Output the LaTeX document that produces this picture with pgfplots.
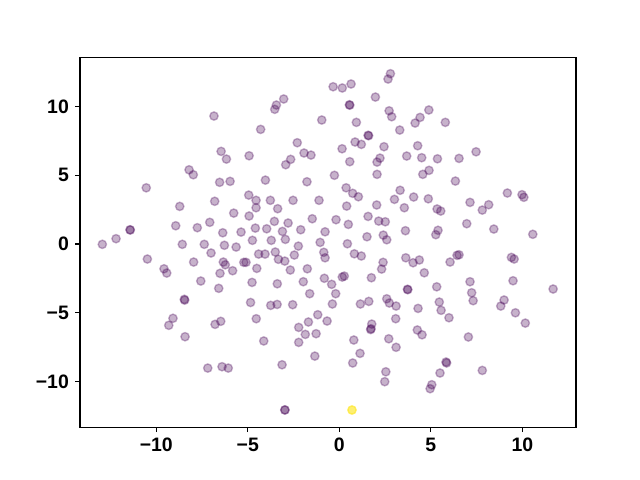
\documentclass[border=0pt]{standalone}
\usepackage{pgfplots}
\pgfplotsset{compat=1.18}
\usepackage{pgfplotstable}
\usepackage{fontspec}
\setmainfont{Liberation Sans}
\definecolor{vpurple}{RGB}{68,1,84}
\definecolor{vyellow}{RGB}{253,231,37}
\pgfplotstableread{
x y
-6.85 9.31
-6.46 6.74
-6.17 6.18
-8.21 5.40
-7.98 5.04
-6.54 4.49
-5.97 4.56
-4.93 6.42
-10.55 4.09
-6.81 3.11
-8.72 2.74
-5.77 2.25
-4.95 3.56
-8.94 1.33
-7.76 1.19
-7.08 1.58
-6.37 0.82
-5.37 0.87
-11.44 1.04
-11.42 1.02
-12.20 0.39
-12.95 -0.02
-8.58 -0.02
-7.38 -0.02
-6.28 -0.09
-5.64 -0.22
-4.93 2.04
-7.01 -0.65
-10.49 -1.09
-9.58 -1.80
-9.43 -2.11
-7.96 -1.31
-6.34 -1.31
-6.23 -1.51
-5.22 -1.33
-5.83 -1.94
-6.52 -2.13
-7.57 -2.69
-6.59 -3.22
-4.77 -2.79
-8.47 -4.02
-8.45 -4.08
-4.85 -4.25
-9.09 -5.40
-9.32 -5.91
-6.79 -5.84
-6.48 -5.62
-8.43 -6.74
-7.19 -9.02
-6.41 -8.92
-6.07 -9.02
2.79 12.39
2.66 12.00
-0.34 11.44
0.16 11.35
0.64 11.64
-3.04 10.55
-3.44 10.11
-3.53 9.80
1.97 10.69
0.55 10.13
0.57 10.10
2.72 9.69
2.86 9.26
-0.96 9.02
-4.30 8.34
0.93 8.85
3.30 8.29
4.14 8.80
1.57 7.91
1.60 7.88
-2.30 7.37
0.86 7.42
1.20 7.25
0.15 6.93
2.44 7.08
3.68 6.40
-1.93 6.62
-1.55 6.47
-2.66 6.16
-2.93 5.77
0.57 5.99
2.22 6.25
2.06 5.96
-0.27 5.00
2.06 5.07
-4.04 4.65
-1.77 4.53
0.37 4.09
0.73 3.69
1.04 3.44
3.32 3.91
3.01 3.25
4.06 3.42
-4.55 3.18
-4.55 2.64
-3.77 3.18
-3.37 2.57
-2.53 3.18
-1.11 3.18
0.40 2.76
2.04 2.84
3.55 2.64
-3.55 1.65
-2.80 1.53
-1.48 1.84
-0.18 1.77
0.49 1.43
1.57 2.01
2.15 1.67
2.51 1.62
-4.59 1.16
-3.97 1.11
-3.11 0.92
-2.95 0.34
-2.11 1.04
-0.78 0.89
3.61 0.97
1.51 0.53
2.40 0.65
2.59 0.31
-4.75 0.27
-3.72 0.27
-1.05 0.12
0.44 0.02
-2.24 -0.15
-4.41 -0.73
-4.06 -0.73
-3.50 -0.58
-3.33 -1.11
-2.98 -1.24
-2.46 -0.80
-0.85 -0.60
-0.78 -1.00
0.82 -0.71
1.20 -0.87
3.63 -1.00
4.03 -1.36
2.39 -1.33
2.31 -1.82
-5.10 -1.33
-4.51 -1.77
-2.68 -1.89
-1.75 -1.80
-3.39 -2.89
-1.97 -2.74
-0.82 -2.49
-0.42 -2.93
0.16 -2.40
0.27 -2.33
1.75 -2.45
3.72 -3.29
3.74 -3.32
-1.62 -3.61
-0.20 -3.61
-3.75 -4.46
-3.40 -4.39
-2.55 -4.41
-0.38 -4.36
1.15 -4.36
1.61 -4.17
2.59 -3.98
2.73 -4.29
3.10 -4.51
-4.54 -5.43
-1.18 -5.14
-1.69 -5.67
-0.67 -5.60
-2.22 -6.06
-1.86 -6.57
-1.27 -6.52
1.77 -5.82
1.73 -6.16
1.71 -6.22
3.08 -5.43
-4.13 -7.05
-2.22 -7.15
0.79 -6.98
2.70 -6.89
3.10 -7.51
1.13 -7.95
-1.34 -8.15
-3.13 -8.78
0.73 -8.65
2.54 -9.29
2.48 -10.01
-2.98 -12.07
-2.97 -12.06
4.89 9.75
4.41 9.21
5.79 8.85
4.28 7.15
4.50 6.28
5.36 6.20
6.54 6.23
7.47 6.71
4.90 5.36
4.56 5.07
6.34 4.58
4.86 3.29
5.34 2.55
5.54 2.40
7.14 3.03
8.16 2.86
7.81 2.47
9.18 3.71
9.98 3.59
10.08 3.40
6.96 1.48
8.44 1.09
5.39 1.00
5.27 0.68
10.57 0.71
6.54 -0.78
6.43 -0.82
6.05 -1.31
4.37 -1.16
4.64 -2.09
9.40 -0.97
9.55 -1.09
9.49 -2.67
11.68 -3.27
5.32 -3.11
7.14 -2.74
7.23 -3.54
7.31 -4.12
9.00 -4.07
8.82 -4.51
9.62 -5.00
10.16 -5.75
4.30 -4.68
5.46 -4.22
5.56 -4.82
5.99 -5.36
4.26 -6.25
4.52 -6.60
7.05 -6.76
5.83 -8.58
5.86 -8.65
5.50 -9.38
7.81 -9.19
5.05 -10.23
4.96 -10.52
}\purpletable
\pgfplotstableread{
x y
0.69 -12.07
}\yellowtable
\begin{document}
\begin{tikzpicture}
\path[use as bounding box] (-57.6pt,-38.016pt) rectangle (403.2pt,307.584pt);
\begin{axis}[
  at={(0pt,0pt)}, anchor=south west,
  scale only axis,
  width=357.12pt, height=266.112pt,
  xmin=-14.17, xmax=12.93,
  ymin=-13.32, ymax=13.56,
  xtick={-10,-5,0,5,10},
  ytick={-10,-5,0,5,10},
  xticklabels={−10,−5,0,5,10},
  yticklabels={−10,−5,0,5,10},
  tick align=outside,
  tick pos=left,
  major tick length=3.5pt,
  tick style={black, line width=0.8pt},
  axis line style={line width=0.8pt},
  tick label style={font=\bfseries\fontsize{14}{16}\selectfont},
  xticklabel style={yshift=-1pt},
  yticklabel style={xshift=-1pt},
]
\addplot[only marks, mark=*, mark size=3pt,
  mark options={line width=1pt, draw=vpurple, fill=vpurple, fill opacity=0.3, draw opacity=0.3}]
  table[x=x, y=y] {\purpletable};
\addplot[only marks, mark=*, mark size=3pt,
  mark options={line width=1pt, draw=vyellow, fill=vyellow, fill opacity=0.65, draw opacity=0.65}]
  table[x=x, y=y] {\yellowtable};
\end{axis}
\end{tikzpicture}
\end{document}
